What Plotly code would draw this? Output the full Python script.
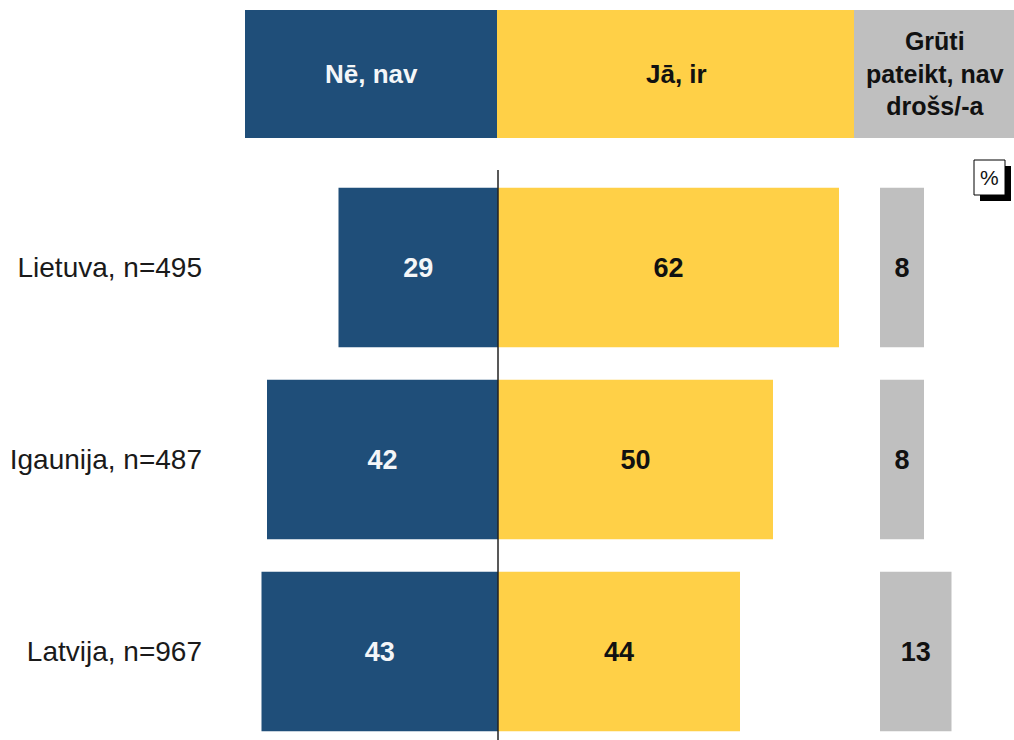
import plotly.graph_objects as go

# ---- data ----
categories = ["Lietuva, n=495", "Igaunija, n=487", "Latvija, n=967"]
ne_nav = [29, 42, 43]          # "Nē, nav"
ja_ir = [62, 50, 44]           # "Jā, ir"
gruti = [8, 8, 13]             # "Grūti pateikt, nav drošs/-a"
header_labels = ["Nē, nav", "Jā, ir", "Grūti<br>pateikt, nav<br>drošs/-a"]

# ---- styling ----
W, H = 1014, 740
BLUE = "#1F4E79"
YELLOW = "#FFD047"
GRAY = "#BFBFBF"
FONT = "Liberation Sans, Arial, sans-serif"
PXU = 5.5        # pixels per percentage point
ZERO_PX = 498    # screen x pixel of zero line


def xp(px):
    return px / W


def yp(py):
    return 1 - py / H


def yidx(py):
    # category index at screen pixel py (centres: Latvija 651.5, step 192)
    return (651.5 - py) / 192.0


fig = go.Figure()

fig.add_trace(go.Bar(
    y=categories, x=[-v for v in ne_nav], orientation="h",
    marker=dict(color=BLUE, line=dict(width=0)),
    text=[str(v) for v in ne_nav], texttemplate="<b>%{text}</b>",
    textposition="inside", insidetextanchor="middle", textangle=0,
    textfont=dict(color="#F4F6F8", size=27, family=FONT),
    width=0.83, xaxis="x", yaxis="y", hoverinfo="skip",
))
fig.add_trace(go.Bar(
    y=categories, x=ja_ir, orientation="h",
    marker=dict(color=YELLOW, line=dict(width=0)),
    text=[str(v) for v in ja_ir], texttemplate="<b>%{text}</b>",
    textposition="inside", insidetextanchor="middle", textangle=0,
    textfont=dict(color="#111111", size=27, family=FONT),
    width=0.83, xaxis="x", yaxis="y", hoverinfo="skip",
))
fig.add_trace(go.Bar(
    y=categories, x=gruti, orientation="h",
    marker=dict(color=GRAY, line=dict(width=0)),
    text=[str(v) for v in gruti], texttemplate="<b>%{text}</b>",
    textposition="inside", insidetextanchor="middle", textangle=0,
    textfont=dict(color="#111111", size=27, family=FONT),
    width=0.83, xaxis="x2", yaxis="y", hoverinfo="skip",
))

shapes = [
    # header boxes
    dict(type="rect", xref="paper", yref="paper", x0=xp(245), x1=xp(497),
         y0=yp(138), y1=yp(10), fillcolor=BLUE, line=dict(width=0), layer="below"),
    dict(type="rect", xref="paper", yref="paper", x0=xp(497), x1=xp(854),
         y0=yp(138), y1=yp(10), fillcolor=YELLOW, line=dict(width=0), layer="below"),
    dict(type="rect", xref="paper", yref="paper", x0=xp(854), x1=xp(1014),
         y0=yp(138), y1=yp(10), fillcolor=GRAY, line=dict(width=0), layer="below"),
    # zero line
    dict(type="line", xref="x", yref="paper", x0=0, x1=0, y0=0, y1=yp(170),
         line=dict(color="#222222", width=1.5), layer="above"),
    # % box shadow + box
    dict(type="rect", xref="paper", yref="paper", x0=xp(980), x1=xp(1011),
         y0=yp(201), y1=yp(166), fillcolor="#000000", line=dict(width=0)),
    dict(type="rect", xref="paper", yref="paper", x0=xp(974), x1=xp(1005),
         y0=yp(195), y1=yp(160), fillcolor="#FFFFFF", line=dict(color="#000000", width=1)),
]

annotations = [
    dict(text="<b>" + header_labels[0] + "</b>", xref="paper", yref="paper",
         x=xp(371), y=yp(74), showarrow=False, xanchor="center", yanchor="middle",
         font=dict(color="#F4F6F8", size=26, family=FONT)),
    dict(text="<b>" + header_labels[1] + "</b>", xref="paper", yref="paper",
         x=xp(676), y=yp(74), showarrow=False, xanchor="center", yanchor="middle",
         font=dict(color="#111111", size=26, family=FONT)),
    dict(text="<b>" + header_labels[2] + "</b>", xref="paper", yref="paper",
         x=xp(935), y=yp(74), showarrow=False, xanchor="center", yanchor="middle",
         font=dict(color="#111111", size=25, family=FONT)),
    dict(text="%", xref="paper", yref="paper", x=xp(989.5), y=yp(177.5),
         showarrow=False, xanchor="center", yanchor="middle",
         font=dict(color="#111111", size=21, family=FONT)),
]

fig.update_layout(
    width=W, height=H, margin=dict(l=0, r=0, t=0, b=0),
    paper_bgcolor="white", plot_bgcolor="rgba(0,0,0,0)",
    barmode="relative", showlegend=False,
    xaxis=dict(domain=[xp(245), xp(855)],
               range=[(245 - ZERO_PX) / PXU, (855 - ZERO_PX) / PXU],
               visible=False, fixedrange=True),
    xaxis2=dict(domain=[xp(880), 1.0], range=[0, (1014 - 880) / PXU],
                visible=False, anchor="y", fixedrange=True),
    yaxis=dict(domain=[0, 1], range=[yidx(740), yidx(0)],
               categoryorder="array", categoryarray=categories[::-1],
               showgrid=False, zeroline=False, showline=False, ticks="",
               ticklabelstandoff=42,
               tickfont=dict(size=28, color="#1a1a1a", family=FONT),
               fixedrange=True),
    shapes=shapes, annotations=annotations,
)

fig.write_html(
    "out.html",
    config={"displayModeBar": False},
    post_script="document.body.style.margin='0';document.body.style.overflow='hidden';",
)
